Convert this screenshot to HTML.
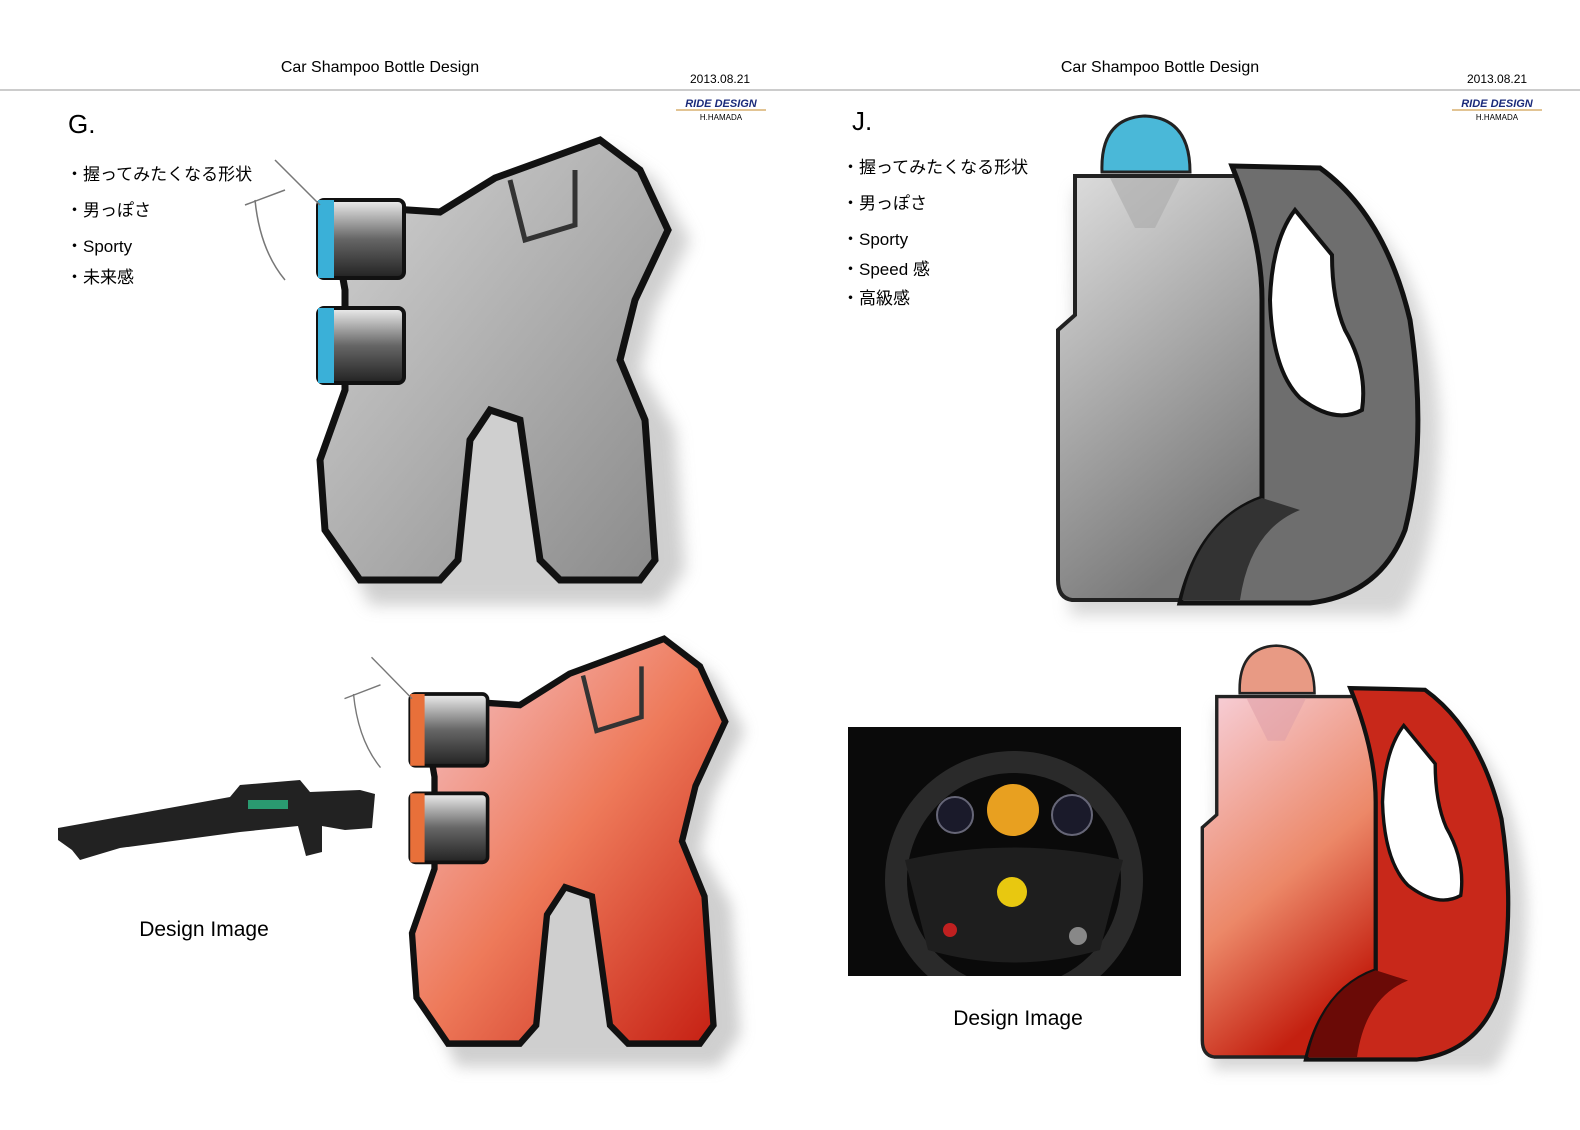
<!DOCTYPE html>
<html><head><meta charset="utf-8"><style>
body{margin:0;background:#fff;}
.t{font-family:"Liberation Sans","Noto Sans CJK JP",sans-serif;}
</style></head><body>
<svg width="1580" height="1125" viewBox="0 0 1580 1125" xmlns="http://www.w3.org/2000/svg" class="t">
<defs>
<linearGradient id="gg" x1="0" y1="0" x2="1" y2="1"><stop offset="0" stop-color="#d4d4d4"/><stop offset="1" stop-color="#8a8a8a"/></linearGradient>
<linearGradient id="rg" x1="0" y1="0" x2="1" y2="1"><stop offset="0" stop-color="#f6c8d0"/><stop offset="0.5" stop-color="#ee7a5a"/><stop offset="1" stop-color="#c41c10"/></linearGradient>
<linearGradient id="cap" x1="0" y1="0" x2="0" y2="1"><stop offset="0" stop-color="#eee"/><stop offset="0.5" stop-color="#666"/><stop offset="1" stop-color="#222"/></linearGradient>
<linearGradient id="jg" x1="0" y1="0" x2="0.4" y2="1"><stop offset="0" stop-color="#dedede"/><stop offset="1" stop-color="#7a7a7a"/></linearGradient>
<linearGradient id="jr" x1="0" y1="0" x2="0.4" y2="1"><stop offset="0" stop-color="#f7d0da"/><stop offset="0.6" stop-color="#ec8868"/><stop offset="1" stop-color="#c42010"/></linearGradient>
<filter id="bl" x="-20%" y="-20%" width="140%" height="140%"><feGaussianBlur stdDeviation="8"/></filter>
<clipPath id="wc"><rect x="848" y="727" width="333" height="249"/></clipPath>
</defs>
<!-- header -->
<line x1="0" y1="90" x2="1580" y2="90" stroke="#ccc" stroke-width="2"/>
<text x="380" y="72" font-size="16" text-anchor="middle">Car Shampoo Bottle Design</text>
<text x="1160" y="72" font-size="16" text-anchor="middle">Car Shampoo Bottle Design</text>
<text x="690" y="83" font-size="12">2013.08.21</text>
<text x="1467" y="83" font-size="12">2013.08.21</text>
<text x="721" y="107" font-size="11" font-weight="bold" font-style="italic" fill="#1a2a7a" text-anchor="middle">RIDE DESIGN</text>
<line x1="676" y1="110" x2="766" y2="110" stroke="#d8b070" stroke-width="1.5"/>
<text x="721" y="120" font-size="8" text-anchor="middle">H.HAMADA</text>
<text x="1497" y="107" font-size="11" font-weight="bold" font-style="italic" fill="#1a2a7a" text-anchor="middle">RIDE DESIGN</text>
<line x1="1452" y1="110" x2="1542" y2="110" stroke="#d8b070" stroke-width="1.5"/>
<text x="1497" y="120" font-size="8" text-anchor="middle">H.HAMADA</text>
<!-- left text -->
<text x="68" y="133" font-size="26">G.</text>
<g font-size="17"><text x="66" y="180">・握ってみたくなる形状</text><text x="66" y="216">・男っぽさ</text><text x="66" y="252">・Sporty</text><text x="66" y="283">・未来感</text></g>
<text x="852" y="130" font-size="26">J.</text>
<g font-size="17"><text x="842" y="173">・握ってみたくなる形状</text><text x="842" y="209">・男っぽさ</text><text x="842" y="245">・Sporty</text><text x="842" y="275">・Speed 感</text><text x="842" y="304">・高級感</text></g>
<text x="204" y="936" font-size="21" text-anchor="middle">Design Image</text>
<text x="1018" y="1025" font-size="21" text-anchor="middle">Design Image</text>

<!-- gray G -->
<g>
<path d="M450,222 L505,188 L610,150 L655,180 L690,240 L655,310 L640,370 L675,430 L685,570 L660,605 L370,605 L340,540 Z" fill="#bbb" filter="url(#bl)" opacity="0.7"/>
<path d="M440,212 L495,178 L600,140 L640,170 L668,230 L635,300 L620,360 L645,420 L655,560 L640,580 L560,580 L540,560 L520,420 L490,410 L470,440 L458,560 L440,580 L360,580 L325,530 L320,460 L345,390 L345,290 L330,205 Z" fill="url(#gg)" stroke="#111" stroke-width="7"/>
<path d="M510,180 L525,240 L575,225 L575,170" fill="none" stroke="#333" stroke-width="5"/>
<rect x="318" y="200" width="86" height="78" rx="6" fill="url(#cap)" stroke="#111" stroke-width="4"/>
<rect x="318" y="200" width="16" height="78" fill="#3ab0d8"/>
<rect x="318" y="308" width="86" height="75" rx="6" fill="url(#cap)" stroke="#111" stroke-width="4"/>
<rect x="318" y="308" width="16" height="75" fill="#3ab0d8"/>
<path d="M275,160 L320,205 M255,200 Q260,250 285,280 M245,205 L285,190" fill="none" stroke="#777" stroke-width="1.5"/>
</g>
<!-- red G -->
<g transform="translate(124,510) scale(0.9,0.92)">
<path d="M450,222 L505,188 L610,150 L655,180 L690,240 L655,310 L640,370 L675,430 L685,570 L660,605 L370,605 L340,540 Z" fill="#bbb" filter="url(#bl)" opacity="0.7"/>
<path d="M440,212 L495,178 L600,140 L640,170 L668,230 L635,300 L620,360 L645,420 L655,560 L640,580 L560,580 L540,560 L520,420 L490,410 L470,440 L458,560 L440,580 L360,580 L325,530 L320,460 L345,390 L345,290 L330,205 Z" fill="url(#rg)" stroke="#111" stroke-width="7"/>
<path d="M510,180 L525,240 L575,225 L575,170" fill="none" stroke="#333" stroke-width="5"/>
<rect x="318" y="200" width="86" height="78" rx="6" fill="url(#cap)" stroke="#111" stroke-width="4"/>
<rect x="318" y="200" width="16" height="78" fill="#e8703a"/>
<rect x="318" y="308" width="86" height="75" rx="6" fill="url(#cap)" stroke="#111" stroke-width="4"/>
<rect x="318" y="308" width="16" height="75" fill="#e8703a"/>
<path d="M275,160 L320,205 M255,200 Q260,250 285,280 M245,205 L285,190" fill="none" stroke="#777" stroke-width="1.5"/>
</g>

<!-- gray jug -->
<g>
<path d="M1075,190 L1330,190 Q1430,250 1440,420 Q1440,560 1400,615 L1070,615 Z" fill="#bbb" filter="url(#bl)" opacity="0.6"/>
<path d="M1102,172 Q1100,118 1145,116 Q1190,118 1190,172 Z" fill="#4ab8d8" stroke="#222" stroke-width="3"/>
<path d="M1075,176 L1262,176 L1262,600 L1072,600 Q1058,598 1058,580 L1058,330 L1075,315 Z" fill="url(#jg)" stroke="#222" stroke-width="4"/>
<path d="M1110,178 L1180,178 L1155,228 L1135,228 Z" fill="#aaa" opacity="0.6"/>
<path d="M1232,166 L1320,168 Q1385,215 1410,320 Q1428,440 1405,530 Q1380,595 1310,603 L1180,603 Q1200,520 1262,498 L1262,300 Q1262,240 1232,166 Z" fill="#6e6e6e" stroke="#111" stroke-width="5"/>
<path d="M1295,210 Q1272,240 1270,300 Q1272,370 1300,398 Q1335,425 1362,410 Q1368,370 1345,330 Q1332,300 1332,255 Z" fill="#fff" stroke="#111" stroke-width="4"/>
<path d="M1182,600 Q1200,520 1262,498 L1300,510 Q1250,530 1240,600 Z" fill="#333"/>
</g>
<!-- red jug -->
<g transform="translate(303,547) scale(0.85)">
<path d="M1075,190 L1330,190 Q1430,250 1440,420 Q1440,560 1400,615 L1070,615 Z" fill="#bbb" filter="url(#bl)" opacity="0.6"/>
<path d="M1102,172 Q1100,118 1145,116 Q1190,118 1190,172 Z" fill="#e89a84" stroke="#222" stroke-width="3"/>
<path d="M1075,176 L1262,176 L1262,600 L1072,600 Q1058,598 1058,580 L1058,330 L1075,315 Z" fill="url(#jr)" stroke="#222" stroke-width="4"/>
<path d="M1110,178 L1180,178 L1155,228 L1135,228 Z" fill="#e0a0a8" opacity="0.6"/>
<path d="M1232,166 L1320,168 Q1385,215 1410,320 Q1428,440 1405,530 Q1380,595 1310,603 L1180,603 Q1200,520 1262,498 L1262,300 Q1262,240 1232,166 Z" fill="#c8281a" stroke="#111" stroke-width="5"/>
<path d="M1295,210 Q1272,240 1270,300 Q1272,370 1300,398 Q1335,425 1362,410 Q1368,370 1345,330 Q1332,300 1332,255 Z" fill="#fff" stroke="#111" stroke-width="4"/>
<path d="M1182,600 Q1200,520 1262,498 L1300,510 Q1250,530 1240,600 Z" fill="#6a0a06"/>
</g>

<!-- steering wheel image -->
<rect x="848" y="727" width="333" height="249" fill="#0a0a0a"/>
<g clip-path="url(#wc)">
<circle cx="1014" cy="880" r="118" fill="none" stroke="#2a2a2a" stroke-width="22"/>
<circle cx="1013" cy="810" r="26" fill="#e8a020"/>
<circle cx="1072" cy="815" r="20" fill="#1a1a2a" stroke="#667" stroke-width="2"/>
<circle cx="955" cy="815" r="18" fill="#1a1a2a" stroke="#667" stroke-width="2"/>
<path d="M905,860 Q1014,835 1123,860 L1100,950 Q1014,975 928,950 Z" fill="#1e1e1e"/>
<circle cx="1012" cy="892" r="15" fill="#e8c810"/>
<circle cx="950" cy="930" r="7" fill="#c02020"/>
<circle cx="1078" cy="936" r="9" fill="#888"/>
</g>

<!-- gun -->
<path d="M58,828 L230,797 L240,785 L300,780 L310,792 L360,790 L375,794 L372,828 L345,830 L322,826 L322,852 L306,856 L298,826 L240,832 L120,848 L80,860 L72,850 L58,840 Z" fill="#222"/>
<rect x="248" y="800" width="40" height="9" fill="#2a9a70"/>
</svg>
</body></html>
